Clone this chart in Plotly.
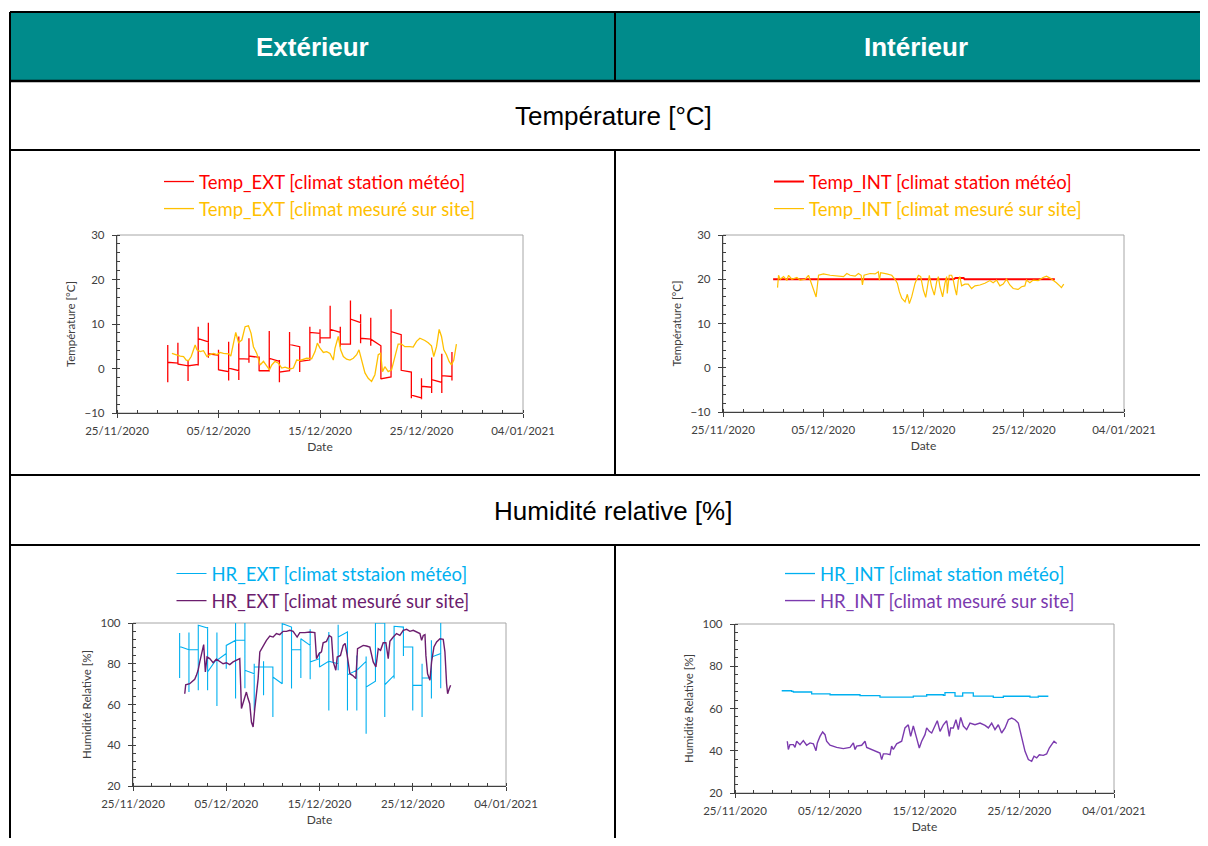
import pandas as pd
import plotly.graph_objects as go

# page offset (body margin) and figure size
OX, OY = 8, 8
FW, FH = 1200, 830
BASE = pd.Timestamp("2020-11-25")

# ---------------- DATA ----------------
station_days = pd.date_range("2020-11-30", "2020-12-28", freq="D")

# Temp_EXT [climat station météo] : daily spikes (hi/lo) and daily level (start/end)
t_ext_st_hi = [5.3, 5.8, 1.7, 9.4, 10.3, 4.2, 6.0, 7.2, 6.8, 2.7, 8.4, 1.9, 8.2, 4.9, 9.4,
               8.8, 14.1, 9.4, 15.3, 12.2, 11.4, 3.4, 13.3, 7.6, -0.8, -2.2, 2.5, 3.3, 3.7]
t_ext_st_lo = [-3.1, 0.9, -2.8, 0.6, 2.4, -0.4, -2.7, -2.6, 1.3, -0.6, -0.5, -3.1, -0.6, -0.8, 1.8,
               5.7, 6.9, 4.9, 5.5, 5.7, 5.1, -2.4, -1.8, -0.4, -6.7, -6.9, -5.5, -5.5, -2.7]
t_ext_st_start = [1.4, 1.0, 0.6, 6.7, 3.3, -0.3, 0.1, 2.2, 2.8, -0.5, 2.3, -0.8, 5.4, 1.6,
                  8.1, 6.9, 8.8, 5.5, 11.1, 6.8, 6.6, -2.3, 8.3, -0.4, -6.0, -4.0, -2.5, -1.6]
t_ext_st_end = [1.2, 0.6, 0.9, 6.0, 3.0, -0.7, -0.5, 2.1, 2.5, -0.5, 1.6, -0.5, 4.9, 1.9,
                7.9, 6.9, 8.1, 5.5, 10.3, 6.6, 5.1, -1.9, 7.6, -0.8, -6.6, -4.2, -3.1, -1.8]

# Temp_EXT [climat mesuré sur site] (days since 25/11/2020)
t_ext_site_d = [5.41, 5.74, 6.23, 6.56, 6.82, 7.05, 7.31, 7.54, 7.70, 7.87, 8.20, 8.52, 8.85, 9.18,
                9.51, 9.84, 10.16, 10.49, 10.98, 11.21, 11.48, 11.70, 11.97, 12.30, 12.62, 12.95,
                13.21, 13.44, 13.77, 14.10, 14.43, 14.75, 15.02, 15.25, 15.57, 15.90, 16.23, 16.56,
                17.05, 17.38, 17.70, 18.03, 18.36, 18.69, 19.18, 19.51, 19.74, 20.00, 20.33, 20.66,
                20.98, 21.31, 21.48, 21.80, 22.03, 22.30, 22.62, 22.95, 23.28, 23.61, 23.84, 24.10,
                24.43, 24.75, 25.08, 25.41, 25.74, 25.97, 26.16, 26.39, 26.72, 27.05, 27.38, 27.70,
                28.03, 28.36, 28.85, 29.18, 29.51, 29.84, 30.33, 30.66, 30.98, 31.21, 31.48, 31.74,
                31.97, 32.20, 32.46, 32.72, 32.95, 33.18, 33.44]
t_ext_site_v = [3.4, 3.1, 2.8, 2.7, 1.9, 1.8, 2.7, 4.2, 5.3, 4.2, 3.8, 4.0, 2.7, 3.1,
                3.4, 3.1, 3.6, 3.4, 3.3, 2.8, 5.7, 8.1, 5.8, 6.4, 9.4, 9.6,
                7.9, 4.9, 3.4, 0.8, 1.6, 0.4, -0.3, 0.8, 1.6, 1.2, 0.1, 0.3,
                -0.1, 0.1, 1.9, 1.8, 2.1, 2.3, 2.2, 3.8, 5.7, 4.6, 3.6, 3.8,
                3.4, 1.9, 4.6, 7.2, 4.2, 2.7, 2.1, 1.9, 2.3, 3.1, 4.2, 1.9,
                -1.0, -2.2, -2.9, -1.4, 3.1, 3.4, -0.7, 0.4, -0.7, -0.3, 2.7, 5.5,
                5.5, 4.9, 4.9, 4.8, 6.1, 6.8, 6.3, 5.8, 5.1, 2.7, 4.9, 8.8,
                7.2, 4.2, 3.1, 1.6, 0.8, 1.9, 5.5]

# Temp_INT [climat station météo]
t_int_st_d = [5.0, 23.0, 23.2, 24.0, 24.1, 33.1]
t_int_st_v = [20.0, 20.0, 20.3, 20.3, 20.0, 20.0]

# Temp_INT [climat mesuré sur site]
t_int_site_d = [5.44, 5.54, 5.71, 6.04, 6.37, 6.54, 6.87, 7.37, 7.70, 8.20, 8.53, 8.70, 8.86, 9.10,
                9.29, 9.53, 10.02, 10.69, 11.35, 12.02, 12.35, 12.68, 13.18, 13.51, 13.78, 13.91,
                14.07, 14.67, 15.17, 15.50, 15.60, 15.73, 16.33, 16.83, 17.16, 17.39, 17.59, 17.83,
                18.16, 18.39, 18.59, 18.82, 19.16, 19.49, 19.72, 19.99, 20.22, 20.41, 20.58, 20.81,
                21.08, 21.31, 21.48, 21.64, 21.91, 22.14, 22.31, 22.37, 22.57, 22.81, 22.97, 23.14,
                23.30, 23.47, 23.63, 23.80, 24.13, 24.46, 24.80, 25.13, 25.63, 26.12, 26.62, 26.95,
                27.29, 27.62, 27.95, 28.28, 28.61, 28.95, 29.44, 29.78, 30.11, 30.27, 30.61, 30.94,
                31.44, 31.93, 32.27, 32.66, 32.93, 33.26, 33.59, 33.76, 33.99]
t_int_site_v = [18.1, 20.9, 20.0, 20.6, 19.8, 20.9, 20.0, 20.4, 19.8, 20.0, 20.9, 19.8, 18.7, 16.9,
                16.0, 20.9, 21.2, 20.9, 20.7, 20.6, 21.3, 20.9, 20.7, 21.3, 20.9, 18.7,
                20.9, 21.3, 21.2, 21.7, 19.8, 21.5, 21.2, 20.9, 20.0, 19.1, 17.2, 15.7,
                14.9, 16.6, 14.5, 16.0, 19.1, 20.9, 20.6, 17.5, 15.9, 19.1, 20.9, 18.3,
                16.4, 19.4, 20.6, 18.3, 16.0, 19.1, 20.6, 16.8, 20.9, 20.9, 19.8, 17.9,
                16.4, 19.8, 20.6, 18.5, 18.9, 18.9, 17.9, 18.5, 18.7, 19.1, 19.7, 19.2,
                19.8, 18.5, 18.9, 20.0, 18.7, 17.9, 17.7, 18.3, 18.5, 19.8, 19.2, 19.8,
                19.7, 20.4, 20.7, 20.2, 19.8, 19.2, 18.5, 18.1, 18.9]

# HR_EXT [climat ststaion météo]
hr_ext_st_hi = [95.1, 95.3, 99.2, 98.0, 95.3, 85.8, 100, 100, 80.0, 81.2, 73.5, 100, 98.0, 92.3, 96.9,
                85.8, 95.6, 99.2, 95.9, 84.1, 83.6, 100, 100, 98.4, 98.0, 88.2, 80.0, 91.5, 100]
hr_ext_st_lo = [73.0, 66.1, 67.0, 67.0, 59.3, 77.6, 62.9, 68.0, 57.1, 64.5, 53.9, 70.2, 67.8, 73.0, 72.4,
                78.4, 57.1, 76.8, 57.1, 57.1, 45.7, 71.4, 53.9, 72.7, 83.8, 57.1, 53.9, 62.9, 68.0]
hr_ext_st_start = [88.5, 86.9, 98.9, 76.0, 81.7, 89.0, 91.5, 76.8, 78.4, 78.4, 73.5, 99.7, 86.9, 92.3,
                   80.9, 78.4, 81.2, 93.1, 74.6, 76.8, 68.6, 100, 69.7, 98.4, 88.2, 69.4, 73.0, 83.3]
hr_ext_st_end = [86.9, 86.9, 97.5, 82.5, 85.0, 91.5, 91.5, 75.1, 78.4, 78.4, 70.2, 98.0, 86.9, 89.0,
                 82.5, 81.2, 80.0, 95.6, 76.8, 81.2, 71.4, 100, 74.3, 98.0, 88.2, 69.4, 73.0, 85.0]

# HR_EXT [climat mesuré sur site]
hr_ext_site_d = [5.55, 5.65, 6.08, 6.37, 6.62, 6.80, 6.98, 7.16, 7.33, 7.58, 7.76, 7.94, 8.23, 8.59,
                 8.94, 9.30, 9.66, 10.02, 10.38, 10.73, 11.09, 11.45, 11.63, 11.81, 11.99, 12.16,
                 12.34, 12.52, 12.70, 12.88, 13.06, 13.24, 13.42, 13.60, 13.95, 14.31, 14.67, 15.03,
                 15.38, 15.74, 16.10, 16.46, 16.82, 17.17, 17.60, 17.89, 18.43, 18.96, 19.50, 19.68,
                 19.96, 20.21, 20.39, 20.75, 21.04, 21.29, 21.47, 21.75, 21.90, 22.25, 22.54, 22.75,
                 22.97, 23.26, 23.54, 23.90, 24.08, 24.33, 24.69, 25.04, 25.40, 25.76, 26.05, 26.30,
                 26.55, 26.83, 27.12, 27.37, 27.55, 27.91, 28.26, 28.62, 28.98, 29.34, 29.70, 30.05,
                 30.41, 30.77, 30.95, 31.13, 31.31, 31.41, 31.59, 31.84, 32.02, 32.27, 32.56, 32.92,
                 33.27, 33.45, 33.63, 33.74, 33.92, 34.06]
hr_ext_site_v = [65.3, 69.7, 70.2, 71.4, 72.4, 74.3, 76.8, 80.9, 84.5, 89.4, 76.0, 83.3, 82.5, 80.5,
                 82.2, 81.2, 80.0, 80.5, 79.6, 80.9, 81.7, 82.5, 58.0, 61.2, 64.5, 66.1,
                 62.9, 60.4, 51.4, 49.0, 58.0, 66.1, 72.7, 85.8, 89.0, 91.5, 93.6, 93.1,
                 94.8, 94.3, 95.9, 95.9, 96.4, 95.9, 93.1, 95.3, 95.3, 95.6, 95.3, 82.5,
                 85.0, 85.8, 90.3, 91.0, 93.9, 93.1, 80.9, 76.8, 83.3, 84.1, 89.0, 90.0,
                 84.1, 75.1, 74.3, 72.7, 87.4, 88.2, 89.0, 88.7, 88.2, 80.9, 78.4, 87.4,
                 86.6, 90.3, 90.3, 82.5, 91.0, 93.1, 94.8, 93.9, 96.4, 96.9, 95.9, 96.4,
                 95.6, 94.8, 91.5, 93.9, 94.3, 84.1, 75.1, 71.9, 80.9, 88.2, 90.7, 92.3,
                 92.0, 85.8, 70.2, 65.3, 67.8, 69.4]

# HR_INT [climat station météo]
hr_int_st_d = [4.93, 5.98, 6.16, 8.09, 10.03, 13.19, 15.30, 18.82, 20.23, 21.99, 22.16, 23.04, 23.22,
               23.92, 24.03, 24.98, 25.15, 26.91, 27.26, 28.14, 28.32, 30.78, 31.13, 32.01, 33.07]
hr_int_st_v = [68.4, 68.1, 67.8, 66.9, 66.5, 66.1, 65.4, 65.9, 66.5, 66.2, 67.5, 67.5, 65.9,
               65.9, 67.4, 67.4, 65.9, 65.9, 65.3, 65.3, 65.8, 65.8, 65.4, 65.8, 65.8]

# HR_INT [climat mesuré sur site]
hr_int_site_d = [5.52, 5.63, 5.80, 6.16, 6.33, 6.51, 6.86, 7.21, 7.56, 7.92, 8.27, 8.55, 8.69, 8.97,
                 9.25, 9.50, 9.67, 10.03, 10.73, 11.43, 12.14, 12.49, 12.67, 12.84, 13.37, 13.72,
                 13.90, 14.42, 14.95, 15.30, 15.48, 15.66, 16.01, 16.36, 16.53, 16.71, 17.06, 17.59,
                 17.94, 18.29, 18.54, 18.82, 19.17, 19.45, 19.70, 20.05, 20.23, 20.51, 20.76, 21.11,
                 21.35, 21.64, 21.99, 22.34, 22.62, 22.76, 23.04, 23.32, 23.57, 23.82, 24.10, 24.45,
                 24.80, 25.33, 25.86, 26.39, 26.74, 27.09, 27.44, 27.79, 28.14, 28.50, 28.85, 29.20,
                 29.55, 29.90, 30.26, 30.61, 30.96, 31.31, 31.56, 31.84, 32.12, 32.54, 32.89, 33.17,
                 33.42, 33.67, 33.95]
hr_int_site_v = [44.5, 40.6, 42.9, 42.9, 41.6, 44.5, 42.9, 44.8, 42.6, 43.7, 43.3, 40.0, 43.7, 46.8,
                 48.9, 47.6, 44.5, 42.6, 41.6, 41.0, 41.6, 43.7, 40.6, 42.2, 42.6, 44.5,
                 41.6, 40.6, 39.7, 38.9, 35.8, 38.5, 38.5, 38.1, 42.2, 40.6, 43.3, 44.5,
                 50.8, 52.3, 46.8, 51.7, 46.0, 41.3, 44.5, 47.6, 50.8, 49.2, 48.4, 51.7,
                 54.2, 49.2, 52.3, 54.2, 46.8, 50.8, 50.8, 54.7, 50.0, 55.8, 51.7, 50.0,
                 53.1, 52.3, 53.1, 52.0, 50.8, 53.1, 50.0, 52.3, 48.4, 50.8, 54.7, 55.5,
                 54.7, 53.1, 46.8, 39.7, 35.8, 35.0, 37.4, 36.6, 38.1, 37.8, 38.5, 41.3,
                 42.9, 44.5, 43.4]

# texts
header_labels = ["Extérieur", "Intérieur"]
section_labels = ["Température [°C]", "Humidité relative [%]"]

# ---------------- HELPERS ----------------
def to_dates(days):
    return BASE + pd.to_timedelta(days, unit="D")


def station_path(days, hi, lo, start, end):
    xs, ys = [], []
    for i, d in enumerate(days):
        xs += [d, d, d]
        ys += [hi[i], lo[i], start[i] if i < len(start) else lo[i]]
        if i < len(start):
            xs.append(d + pd.Timedelta(days=1))
            ys.append(end[i])
    return xs, ys


def px(x):
    return (x - OX) / FW


def py(y):
    return 1 - (y - OY) / FH


RED, YEL, BLUE = "#FF0000", "#FFC000", "#00B0F0"
PURP_EXT, PURP_INT = "#6B1D6E", "#7B3AAE"
TEAL = "#008B8B"
FONT = "Lato"
AXC = "#404040"
TXC = "#404040"

fig = go.Figure()


def lab(text, color):
    return f'<span style="color:{color}">{text}</span>'


# chart 1
x, y = station_path(station_days, t_ext_st_hi, t_ext_st_lo, t_ext_st_start, t_ext_st_end)
fig.add_trace(go.Scatter(x=x, y=y, mode="lines", line=dict(color=RED, width=1.3),
                         name=lab("Temp_EXT [climat station météo]", RED), xaxis="x", yaxis="y",
                         legend="legend"))
fig.add_trace(go.Scatter(x=to_dates(t_ext_site_d), y=t_ext_site_v, mode="lines",
                         line=dict(color=YEL, width=1.3),
                         name=lab("Temp_EXT [climat mesuré sur site]", YEL), xaxis="x", yaxis="y",
                         legend="legend"))
# chart 2
fig.add_trace(go.Scatter(x=to_dates(t_int_st_d), y=t_int_st_v, mode="lines",
                         line=dict(color=RED, width=2),
                         name=lab("Temp_INT [climat station météo]", RED), xaxis="x2", yaxis="y2",
                         legend="legend2"))
fig.add_trace(go.Scatter(x=to_dates(t_int_site_d), y=t_int_site_v, mode="lines",
                         line=dict(color=YEL, width=1.2),
                         name=lab("Temp_INT [climat mesuré sur site]", YEL), xaxis="x2", yaxis="y2",
                         legend="legend2"))
# chart 3
x, y = station_path(station_days, hr_ext_st_hi, hr_ext_st_lo, hr_ext_st_start, hr_ext_st_end)
fig.add_trace(go.Scatter(x=x, y=y, mode="lines", line=dict(color=BLUE, width=1.1),
                         name=lab("HR_EXT [climat ststaion météo]", BLUE), xaxis="x3", yaxis="y3",
                         legend="legend3"))
fig.add_trace(go.Scatter(x=to_dates(hr_ext_site_d), y=hr_ext_site_v, mode="lines",
                         line=dict(color=PURP_EXT, width=1.4),
                         name=lab("HR_EXT [climat mesuré sur site]", PURP_EXT), xaxis="x3", yaxis="y3",
                         legend="legend3"))
# chart 4
fig.add_trace(go.Scatter(x=to_dates(hr_int_st_d), y=hr_int_st_v, mode="lines", line_shape="hv",
                         line=dict(color=BLUE, width=1.3),
                         name=lab("HR_INT [climat station météo]", BLUE), xaxis="x4", yaxis="y4",
                         legend="legend4"))
fig.add_trace(go.Scatter(x=to_dates(hr_int_site_d), y=hr_int_site_v, mode="lines",
                         line=dict(color=PURP_INT, width=1.4),
                         name=lab("HR_INT [climat mesuré sur site]", PURP_INT), xaxis="x4", yaxis="y4",
                         legend="legend4"))

# ---------------- AXES ----------------
panels = {
    # pixel boxes of plot areas in the page: (x0, x1, ytop, ybottom)
    "1": (117, 523, 235, 413),
    "2": (723, 1124, 235, 412),
    "3": (133, 506, 623, 786),
    "4": (735, 1114, 624, 793),
}
yconf = {
    "1": dict(range=[-10, 30], dtick=10, minor=2, title="Température [°C]"),
    "2": dict(range=[-10, 30], dtick=10, minor=2, title="Température [°C]"),
    "3": dict(range=[20, 100], dtick=20, minor=4, title="Humidité Relative [%]"),
    "4": dict(range=[20, 100], dtick=20, minor=4, title="Humidité Relative [%]"),
}
DAY = 86400000
tickfont = dict(family=FONT, size=11.5, color=TXC)
for k, (x0, x1, yt, yb) in panels.items():
    xa = "xaxis" if k == "1" else f"xaxis{k}"
    ya = "yaxis" if k == "1" else f"yaxis{k}"
    yid = "y" if k == "1" else f"y{k}"
    xid = "x" if k == "1" else f"x{k}"
    c = yconf[k]
    fig.layout[xa] = dict(
        domain=[px(x0), px(x1)], anchor=yid, type="date", automargin=False,
        range=["2020-11-25", "2021-01-04"], tick0="2020-11-25", dtick=10 * DAY,
        tickformat="%d/%m/%Y", tickfont=tickfont, showgrid=False, zeroline=False,
        showline=True, linecolor=AXC, linewidth=1.3,
        ticks="outside", ticklen=4, tickcolor=AXC, ticklabelstandoff=3,
        minor=dict(dtick=2 * DAY, tick0="2020-11-25", ticks="inside", ticklen=3,
                   tickcolor=AXC, showgrid=False),
        title=dict(text="Date", font=dict(family=FONT, size=12, color=TXC), standoff=6),
        fixedrange=True,
    )
    fig.layout[ya] = dict(
        domain=[py(yb), py(yt)], anchor=xid, range=c["range"], dtick=c["dtick"], automargin=False,
        tickfont=tickfont, showgrid=False, zeroline=False,
        showline=True, linecolor=AXC, linewidth=1.3,
        ticks="outside", ticklen=4, tickcolor=AXC, ticklabelstandoff=5,
        minor=dict(dtick=c["minor"], ticks="inside", ticklen=3, tickcolor=AXC, showgrid=False),
        title=dict(text=c["title"], font=dict(family=FONT, size=11.5, color=TXC), standoff=6),
        fixedrange=True,
    )

# ---------------- LEGENDS ----------------
legend_pos = {"legend": (320, 163), "legend2": (928, 163), "legend3": (323, 555), "legend4": (930, 555)}
for name, (lx, ly) in legend_pos.items():
    fig.layout[name] = dict(x=px(lx), y=py(ly), xanchor="center", yanchor="top",
                            xref="paper", yref="paper",
                            bgcolor="rgba(0,0,0,0)", font=dict(family=FONT, size=18.5),
                            itemwidth=30, tracegroupgap=0)

# ---------------- TABLE ----------------
shapes = []
for k in panels:
    xd = "x" if k == "1" else f"x{k}"
    yd = "y" if k == "1" else f"y{k}"
    shapes.append(dict(type="rect", xref=f"{xd} domain", yref=f"{yd} domain", x0=0, x1=1, y0=0, y1=1,
                       line=dict(color="#A6A6A6", width=1), layer="below"))
shapes.append(dict(type="rect", xref="paper", yref="paper", x0=px(10), x1=1.01, y0=py(81), y1=py(12),
                   fillcolor=TEAL, line=dict(width=0), layer="below"))


def hline(y, x0=10, w=2):
    shapes.append(dict(type="line", xref="paper", yref="paper", x0=px(x0), x1=1.01, y0=py(y), y1=py(y),
                       line=dict(color="black", width=w)))


def vline(x, y0, y1, w=2):
    shapes.append(dict(type="line", xref="paper", yref="paper", x0=px(x), x1=px(x), y0=py(y0), y1=py(y1),
                       line=dict(color="black", width=w)))


hline(12)
hline(81, w=2.5)
hline(150)
hline(475)
hline(545)
vline(10, 12, 860)
vline(615, 12, 81)
vline(615, 150, 475)
vline(615, 545, 860)


def ann(text, x, y, color, size=26):
    return dict(text=text, x=px(x), y=py(y), xref="paper", yref="paper", xanchor="center",
                yanchor="middle", showarrow=False,
                font=dict(family="Liberation Sans", size=size, color=color))


annotations = [
    ann(f"<b>{header_labels[0]}</b>", 312, 47, "white", 26),
    ann(f"<b>{header_labels[1]}</b>", 916, 47, "white", 26),
    ann(section_labels[0], 613, 116, "black"),
    ann(section_labels[1], 613, 511, "black"),
]

fig.update_layout(
    template="none",
    width=FW, height=FH, margin=dict(l=0, r=0, t=0, b=0, autoexpand=False),
    paper_bgcolor="white", plot_bgcolor="white",
    shapes=shapes, annotations=annotations, showlegend=True,
    font=dict(family=FONT),
)

fig.write_html("out.html")
